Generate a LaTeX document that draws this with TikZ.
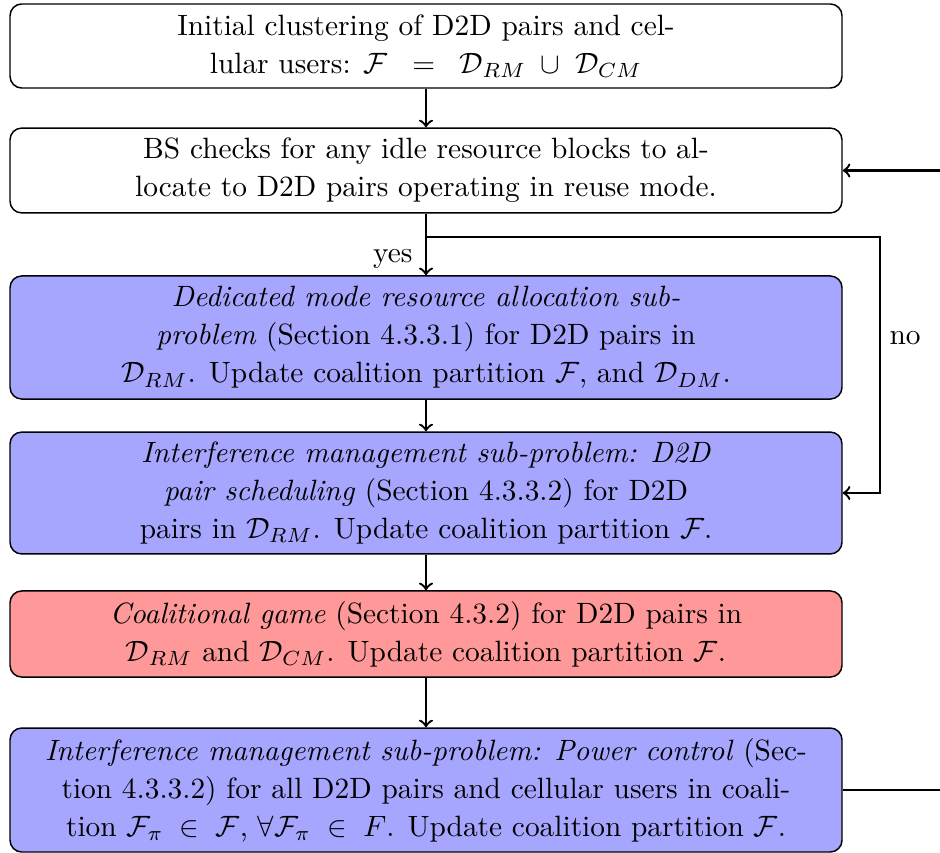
\documentclass[tikz,border=0pt]{standalone}
\usetikzlibrary{calc}
\begin{document}
\begin{tikzpicture}[x=0.3404pt,y=-0.3404pt,
  box/.style={draw=black, line width=0.5pt, rounded corners=4pt, minimum width=283.2pt,
    align=center, inner sep=0pt, font=\fontsize{10}{12.9}\selectfont},
  bluebox/.style={box, fill=blue!35},
  redbox/.style={box, fill=red!40},
  arr/.style={->, thick},
  lbl/.style={font=\fontsize{10}{12}\selectfont, inner sep=0pt}]
\begin{scope}
\clip (0,0) rectangle (940,852);
\node[box, minimum height=28.6pt] (b1) at (426,46)
  {Initial clustering of D2D pairs and cel-\\
   lular users: $\mathcal{F}\;\;=\;\;\mathcal{D}_{RM}\;\cup\;\mathcal{D}_{CM}$};
\node[box, minimum height=28.9pt] (b2) at (426,170.5)
  {BS checks for any idle resource blocks to al-\\
   locate to D2D pairs operating in reuse mode.};
\node[bluebox, minimum height=41.9pt] (b3) at (426,337.5)
  {\emph{Dedicated mode resource allocation sub-}\\
   \emph{problem} (Section 4.3.3.1) for D2D pairs in\\
   $\mathcal{D}_{RM}$. Update coalition partition $\mathcal{F}$, and $\mathcal{D}_{DM}$.};
\node[bluebox, minimum height=41.5pt] (b4) at (426,493)
  {\emph{Interference management sub-problem: D2D}\\
   \emph{pair scheduling} (Section 4.3.3.2) for D2D\\
   pairs in $\mathcal{D}_{RM}$. Update coalition partition $\mathcal{F}$.};
\node[redbox, minimum height=29.3pt] (b5) at (426,634)
  {\emph{Coalitional game} (Section 4.3.2) for D2D pairs in\\
   $\mathcal{D}_{RM}$ and $\mathcal{D}_{CM}$. Update coalition partition $\mathcal{F}$.};
\node[bluebox, minimum height=42.2pt] (b6) at (426,790)
  {\emph{Interference management sub-problem: Power control} (Sec-\\
   tion 4.3.3.2) for all D2D pairs and cellular users in coali-\\
   tion $\mathcal{F}_\pi \;\in\; \mathcal{F}$, $\forall\mathcal{F}_\pi \;\in\; F$. Update coalition partition $\mathcal{F}$.};

\coordinate (br) at (426,237);
\coordinate (nr) at (880,237);
\coordinate (fb) at (962,790);

\draw[arr] (b1) -- (b2);
\draw[arr] (b2) -- (b3);
\node[lbl, anchor=east] (yes) at (413,259) {yes};
\draw[arr] (br) -- (nr) |- (b4.east);
\node[lbl, anchor=west] (no) at (889,338) {no};
\draw[arr] (b3) -- (b4);
\draw[arr] (b4) -- (b5);
\draw[arr] (b5) -- (b6);
\draw[arr] (b6.east) -- (fb) |- (b2.east);
\end{scope}
\pgfresetboundingbox
\useasboundingbox (0,0) rectangle (940,852);
\end{tikzpicture}
\end{document}
